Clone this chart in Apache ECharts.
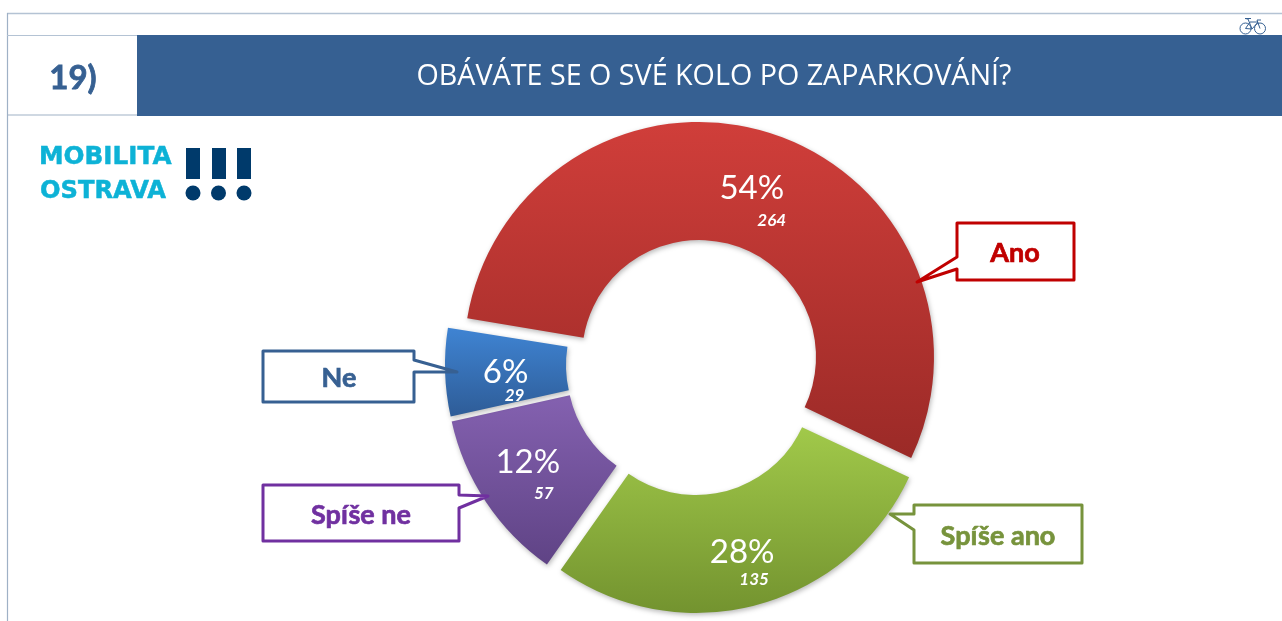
<!DOCTYPE html>
<html>
<head>
<meta charset="utf-8">
<style>html,body{margin:0;padding:0;background:#fff}#c{width:1282px;height:621px}</style>
<script src="https://cdn.jsdelivr.net/npm/echarts@6/dist/echarts.min.js"></script>
</head>
<body>
<div id="c"></div>
<script>
const categories = ['Ano', 'Spíše ano', 'Spíše ne', 'Ne'];
const counts = [264, 135, 57, 29];
const percents = [54, 28, 12, 6];
const titleText = 'OBÁVÁTE SE O SVÉ KOLO PO ZAPARKOVÁNÍ?';
const questionNumber = '19)';

const centers = [[699, 357], [696, 378], [684, 370], [683, 365]];
const startAngles = [170.5, 171, 171, 171];
const outerRadii = [235, 235, 238, 238];
const topColors = ['#d03e3a', '#a1c94a', '#8461b0', '#3f84d3'];
const bottomColors = ['#9b2a27', '#73932f', '#5f4385', '#2e5c97'];
const labelDx = [-1, 0, -6, 3];
const labelDy = [16, 11, 5, 7];
const countPad = [40, 24, 32, 18];
const lineGap = [32, 28, 31, 23];

const calloutColors = ['#c00000', '#77933c', '#7030a0', '#376092'];
const calloutShapes = [
  [[957,223],[1074,223],[1074,280],[957,280],[957,269],[917,282],[957,257]],
  [[914,505],[1082,505],[1082,563],[914,563],[914,530],[890,514],[914,514]],
  [[263,485],[459,485],[459,495],[488,496],[459,508],[459,541],[263,541]],
  [[263,351],[414,351],[414,360],[457,372],[414,372],[414,402],[263,402]]
];
const calloutTextPos = [[1015,253],[998,536],[361,515],[339,378]];

const series = categories.map((name, i) => ({
  type: 'pie',
  silent: true,
  animation: false,
  clockwise: true,
  startAngle: startAngles[i],
  center: centers[i],
  radius: [117, outerRadii[i]],
  avoidLabelOverlap: false,
  labelLine: { show: false },
  labelLayout: { dx: labelDx[i], dy: labelDy[i] },
  data: categories.map((n, j) => j === i ? {
    name: n,
    value: counts[j],
    itemStyle: {
      shadowBlur: 5,
      shadowColor: 'rgba(0,0,0,0.28)',
      shadowOffsetX: 1,
      shadowOffsetY: 2,
      color: new echarts.graphic.LinearGradient(0, 0, 0, 1, [
        { offset: 0, color: topColors[j] },
        { offset: 1, color: bottomColors[j] }
      ])
    },
    label: {
      show: true,
      position: 'inside',
      formatter: '{p|' + percents[j] + '%}\n{n|' + counts[j] + '}',
      rich: {
        p: { fontFamily: 'Lato', fontSize: 33, color: '#fff', lineHeight: 36, align: 'center' },
        n: { fontFamily: 'Lato', fontSize: 17, fontWeight: 'bold', fontStyle: 'italic', color: '#fff',
             lineHeight: 2 * lineGap[i] - 36, align: 'center', padding: [0, 0, 0, countPad[i]] }
      }
    }
  } : {
    name: n,
    value: counts[j],
    itemStyle: { color: 'rgba(0,0,0,0)' },
    label: { show: false }
  })
}));

const frameColor = '#b4c3d4';
const navy = '#003a6b';
const cyan = '#0db2d6';
const band = '#366092';
const line = (x1, y1, x2, y2, stroke, w) => ({ type: 'line', shape: { x1, y1, x2, y2 }, style: { stroke, lineWidth: w || 1.2 } });
const text = (x, y, t, font, fill, align, bold) => ({ type: 'text', x, y, style: Object.assign({ text: t, font, fill, align: align || 'center', verticalAlign: 'middle' }, bold ? { stroke: fill, lineWidth: bold } : {}) });

const graphics = [
  line(7, 13.5, 1282, 13.5, frameColor, 1.4),
  line(7.5, 13, 7.5, 621, '#9fb1c6', 1.2),
  line(7, 35.5, 137, 35.5, frameColor),
  line(7, 115, 137, 115, '#9fb1c6'),
  { type: 'rect', shape: { x: 137, y: 35, width: 1145, height: 81 }, style: { fill: band } },
  text(73, 78, questionNumber, 'bold 33px Lato', band, 'center', 0.8),
  text(714, 77, titleText, '28.7px "Open Sans"', '#fff'),
  text(39, 158, 'MOBILITA', 'bold 24.7px "DejaVu Sans"', cyan, 'left', 0.5),
  text(40, 192, 'OSTRAVA', 'bold 24.2px "DejaVu Sans"', cyan, 'left', 0.5),
  { type: 'rect', shape: { x: 186, y: 148, width: 14, height: 31 }, style: { fill: navy } },
  { type: 'rect', shape: { x: 212, y: 148, width: 14, height: 31 }, style: { fill: navy } },
  { type: 'rect', shape: { x: 237, y: 148, width: 14, height: 31 }, style: { fill: navy } },
  { type: 'circle', shape: { cx: 193, cy: 193, r: 7.5 }, style: { fill: navy } },
  { type: 'circle', shape: { cx: 218.5, cy: 193, r: 7.5 }, style: { fill: navy } },
  { type: 'circle', shape: { cx: 244, cy: 193, r: 7.5 }, style: { fill: navy } },
  { type: 'circle', shape: { cx: 1245.5, cy: 28.5, r: 5.5 }, style: { fill: 'none', stroke: band, lineWidth: 1 } },
  { type: 'circle', shape: { cx: 1260, cy: 28.5, r: 5.5 }, style: { fill: 'none', stroke: band, lineWidth: 1 } },
  { type: 'polyline', shape: { points: [[1245.5,28.5],[1250,22],[1258,22],[1252,29],[1245.5,28.5]] }, style: { fill: 'none', stroke: band, lineWidth: 1 } },
  { type: 'polyline', shape: { points: [[1260,28.5],[1257,20],[1261,20]] }, style: { fill: 'none', stroke: band, lineWidth: 1 } },
  { type: 'polyline', shape: { points: [[1252,29],[1248,19],[1245,18.5],[1251,18.5]] }, style: { fill: 'none', stroke: band, lineWidth: 1 } }
];
categories.forEach((name, i) => {
  graphics.push({
    type: 'polygon',
    z: 20,
    shape: { points: calloutShapes[i] },
    style: { fill: '#fff', stroke: calloutColors[i], lineWidth: 3, lineJoin: 'round' }
  });
  const g = text(calloutTextPos[i][0], calloutTextPos[i][1], name, 'bold 27px Lato', calloutColors[i], 'center', 0.7);
  g.z = 21;
  graphics.push(g);
});

const chart = echarts.init(document.getElementById('c'), null, { renderer: 'canvas' });
chart.setOption({
  backgroundColor: '#fff',
  animation: false,
  tooltip: { show: false },
  legend: { show: false },
  series,
  graphic: graphics
});
</script>
</body>
</html>
